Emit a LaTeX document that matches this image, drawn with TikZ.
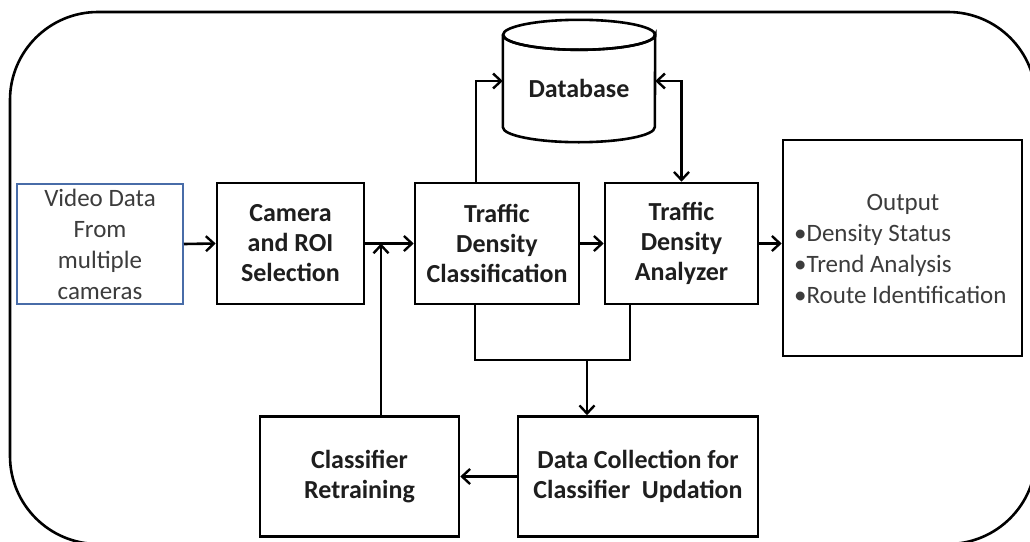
\documentclass[tikz,border=0pt]{standalone}
\usepackage{fontspec}
\setmainfont{Carlito}
\usetikzlibrary{arrows.meta,calc}
\definecolor{frameblue}{RGB}{72,108,168}
\definecolor{txt}{RGB}{30,30,30}
\definecolor{lighttxt}{RGB}{60,60,60}
\tikzset{
  blk/.style={draw=black, line width=2.6pt, fill=white, align=center, inner sep=0pt,
    font=\fontsize{26}{30}\selectfont\bfseries, text=txt},
  tip/.tip={Straight Barb[length=8pt,width=15pt,line width=2.4pt]},
  conn/.style={line width=2.6pt, -tip},
  bconn/.style={line width=2.6pt, tip-tip},
  plain/.style={line width=2.6pt},
  lighttext/.style={font=\fontsize{25}{31}\selectfont, text=lighttxt, inner sep=0pt},
}
\begin{document}
\begin{tikzpicture}[x=1pt,y=-1pt]
\useasboundingbox (0,0) rectangle (1030,541);
\begin{scope}
\clip (0,0) rectangle (1030,541);
% rounded outer frame
\draw[line width=2.6pt, rounded corners=88pt] (10,12) rectangle (1036,544);
\end{scope}

% input source
\node[draw=frameblue, line width=2pt, fill=white, minimum width=166pt, minimum height=120pt,
      align=center, lighttext]
      (vid) at (100,244) {Video Data\\From\\multiple\\cameras};

% processing blocks
\node[blk, minimum width=147pt, minimum height=121pt] (cam) at (290.5,243.5) {Camera\\and ROI\\Selection};
\node[blk, minimum width=164pt, minimum height=121pt] (tdc) at (497,243.5) {Traffic\\Density\\Classification};
\node[blk, minimum width=153pt, minimum height=121pt] (ana) at (681.5,243.5) {Traffic\\Density\\Analyzer};
\node[blk, minimum width=199pt, minimum height=120pt] (rt) at (359.5,476.5) {Classifier\\Retraining};
\node[blk, minimum width=240pt, minimum height=120pt] (dc) at (638,476.5) {Data Collection for\\Classifier\ \ Updation};

% output block
\node[draw=black, line width=2.6pt, fill=white, minimum width=239pt, minimum height=216pt, inner sep=0pt]
      (out) at (902.5,248) {};
\node[lighttext] (outtitle) at (903,204) {Output};
\node[lighttext, align=left, anchor=north west]
      (outlist) at (794,224) {{\char"2022}Density Status\\{\char"2022}Trend Analysis\\{\char"2022}Route Identification};

% database cylinder
\node[minimum width=152pt, minimum height=92pt, inner sep=0pt] (db) at (579,81) {};
\draw[line width=2.6pt, fill=white]
  (db.north west) -- (db.south west)
  arc[start angle=180, end angle=360, x radius=76pt, y radius=15pt]
  -- (db.north east)
  arc[start angle=0, end angle=180, x radius=76pt, y radius=-15pt];
\draw[line width=2.6pt] (db.north) ellipse[x radius=76pt, y radius=15pt];
\node[font=\fontsize{26}{30}\selectfont\bfseries, text=txt] (dblabel) at (579,88) {Database};

% main flow
\draw[conn] (vid.east) -- (cam.west);
\draw[conn] (cam.east) -- (tdc.west);
\draw[conn] (tdc.east) -- (ana.east -| ana.west);
\draw[conn] (ana.east) -- (ana.east -| out.west);

% database links
\draw[conn] ([xshift=-21pt]tdc.north) |- (db.west);
\draw[bconn] (db.east) -| (ana.north);

% feedback loop
\coordinate (j) at (587,360);
\draw[plain] ([xshift=-22pt]tdc.south) |- (j) -| ([xshift=-51.5pt]ana.south);
\draw[conn] (j) -- (j |- dc.north);
\draw[conn] (dc.west) -- (rt.east);
\draw[conn] ([xshift=21.5pt]rt.north) -- ([xshift=21.5pt]rt.north |- cam.east);
\end{tikzpicture}
\end{document}
